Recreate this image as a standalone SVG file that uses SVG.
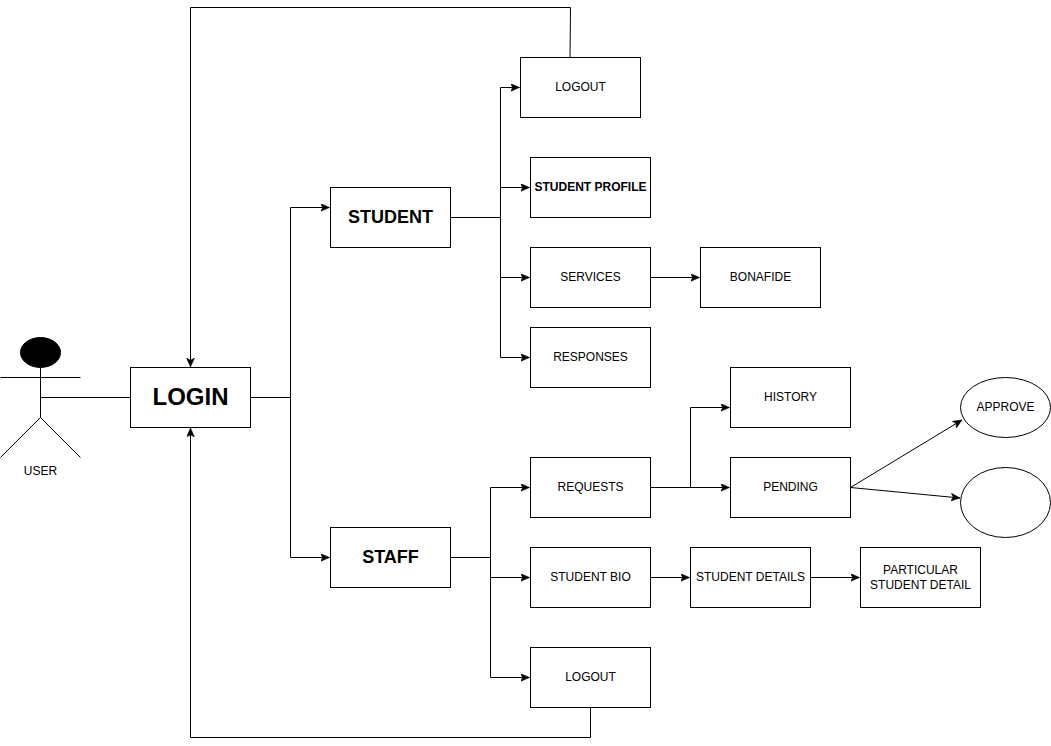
<svg xmlns="http://www.w3.org/2000/svg" width="1051" height="746" viewBox="0 0 1051 746">
<style>
.b{fill:#fff;stroke:#000;stroke-width:1}
.c{fill:none;stroke:#000;stroke-width:1}
text{font-family:"Liberation Sans",Arial,Helvetica,sans-serif;font-size:12px;fill:#000;text-anchor:middle}
.h{font-size:18px;font-weight:bold}
</style>
<defs><marker id="a" markerUnits="userSpaceOnUse" markerWidth="10" markerHeight="10" refX="9" refY="4" orient="auto"><path d="M0 0L9 4L0 8L2.2 4Z" fill="#000" stroke="#000" stroke-width="0.5"/></marker></defs>
<rect width="1051" height="746" fill="#fff"/>
<g id="connectors">
<path class="c" d="M40.5 397.5H130.5"/>
<path class="c" d="M250.5 397.5H290.5V207.5H329.5" marker-end="url(#a)"/>
<path class="c" d="M290.5 397.5V557.5H329.5" marker-end="url(#a)"/>
<path class="c" d="M450.5 217.5H500.5V87.5H519.5" marker-end="url(#a)"/>
<path class="c" d="M500.5 217.5V187.5H529.5" marker-end="url(#a)"/>
<path class="c" d="M500.5 217.5V277.5H529.5" marker-end="url(#a)"/>
<path class="c" d="M500.5 217.5V357.5H529.5" marker-end="url(#a)"/>
<path class="c" d="M650.5 277.5H699.5" marker-end="url(#a)"/>
<path class="c" d="M450.5 557.5H490.5V487.5H529.5" marker-end="url(#a)"/>
<path class="c" d="M490.5 557.5V577.5H529.5" marker-end="url(#a)"/>
<path class="c" d="M490.5 557.5V677.5H529.5" marker-end="url(#a)"/>
<path class="c" d="M650.5 487.5H729.5" marker-end="url(#a)"/>
<path class="c" d="M690.5 487.5V407.5H729.5" marker-end="url(#a)"/>
<path class="c" d="M850.5 487.5L962 420" marker-end="url(#a)"/>
<path class="c" d="M850.5 487.5L960 498" marker-end="url(#a)"/>
<path class="c" d="M650.5 577.5H689.5" marker-end="url(#a)"/>
<path class="c" d="M810.5 577.5H859.5" marker-end="url(#a)"/>
<path class="c" d="M570 58L570.5 7.5H190.5V367" marker-end="url(#a)"/>
<path class="c" d="M590.5 707.5V737.5H190.5V428" marker-end="url(#a)"/>
</g>
<g id="user"><ellipse cx="40.5" cy="352.5" rx="20" ry="15" fill="#000" stroke="#000"/><path class="c" d="M40.5 367.5V417.5M0.5 377.5H80.5M0.5 457.5L40.5 417.5L80.5 457.5"/><text x="40.5" y="475">USER</text></g>
<g id="login"><rect class="b" x="130.5" y="367.5" width="120" height="60"/><text x="190.5" y="405" style="font-size:24px;font-weight:bold">LOGIN</text></g>
<g id="student"><rect class="b" x="330.5" y="187.5" width="120" height="60"/><text class="h" x="390.5" y="223">STUDENT</text></g>
<g id="staff"><rect class="b" x="330.5" y="527.5" width="120" height="60"/><text class="h" x="390.5" y="563">STAFF</text></g>
<g id="logout1"><rect class="b" x="520.5" y="57.5" width="120" height="60"/><text x="580.5" y="91">LOGOUT</text></g>
<g id="profile"><rect class="b" x="530.5" y="157.5" width="120" height="60"/><text x="590.5" y="191" font-weight="bold">STUDENT PROFILE</text></g>
<g id="services"><rect class="b" x="530.5" y="247.5" width="120" height="60"/><text x="590.5" y="281">SERVICES</text></g>
<g id="bonafide"><rect class="b" x="700.5" y="247.5" width="120" height="60"/><text x="760.5" y="281">BONAFIDE</text></g>
<g id="responses"><rect class="b" x="530.5" y="327.5" width="120" height="60"/><text x="590.5" y="361">RESPONSES</text></g>
<g id="history"><rect class="b" x="730.5" y="367.5" width="120" height="60"/><text x="790.5" y="401">HISTORY</text></g>
<g id="pending"><rect class="b" x="730.5" y="457.5" width="120" height="60"/><text x="790.5" y="491">PENDING</text></g>
<g id="requests"><rect class="b" x="530.5" y="457.5" width="120" height="60"/><text x="590.5" y="491">REQUESTS</text></g>
<g id="bio"><rect class="b" x="530.5" y="547.5" width="120" height="60"/><text x="590.5" y="581">STUDENT BIO</text></g>
<g id="details"><rect class="b" x="690.5" y="547.5" width="120" height="60"/><text x="750.5" y="581">STUDENT DETAILS</text></g>
<g id="particular"><rect class="b" x="860.5" y="547.5" width="120" height="60"/><text x="920.5" y="574">PARTICULAR</text><text x="920.5" y="589">STUDENT DETAIL</text></g>
<g id="logout2"><rect class="b" x="530.5" y="647.5" width="120" height="60"/><text x="590.5" y="681">LOGOUT</text></g>
<g id="approve"><ellipse class="b" cx="1005.5" cy="407.5" rx="45" ry="30"/><text x="1005.5" y="411">APPROVE</text></g>
<g id="reject"><ellipse class="b" cx="1005.5" cy="502.5" rx="45" ry="35"/></g>
</svg>
